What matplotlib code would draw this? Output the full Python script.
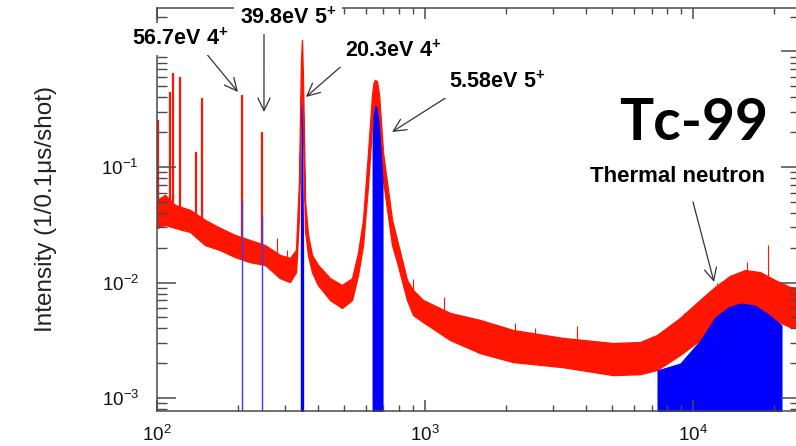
import matplotlib
matplotlib.use("Agg")
import matplotlib.pyplot as plt

plt.rcParams['font.family'] = ['Liberation Sans', 'DejaVu Sans']
plt.rcParams['mathtext.fontset'] = 'custom'
plt.rcParams['mathtext.rm'] = 'Liberation Sans'
plt.rcParams['mathtext.it'] = 'Liberation Sans:italic'
plt.rcParams['mathtext.bf'] = 'Liberation Sans:bold'

# ---- data ----
# time of flight (us) and noise band of the red (all events) spectrum
band_x = [100, 107.1, 116.7, 132.8, 151.1, 171.8, 195.4, 222.3, 252.9, 287.7, 313.5,
          330.1, 338.8, 344.6, 347.5, 350.5, 356.6, 365.9, 378.7, 398.7, 442.2, 490.1,
          534.2, 562.3, 587.1, 612.9, 634.4, 643.0, 651.1, 662.4, 673.9, 697.4, 753.4, 786.5,
          856.8, 902.2, 982.9, 1240, 1604, 2130, 3273, 5028, 6342, 7338, 8941, 10620,
          12080, 13740, 15630, 17780, 20230, 23010, 25070]
band_hi = [0.0518, 0.0573, 0.0469, 0.0425, 0.0348, 0.0297, 0.0258, 0.0233, 0.0211, 0.0173, 0.0163,
           0.0191, 0.0771, 0.844, 1.258, 0.567, 0.0518, 0.0258, 0.0173, 0.0142, 0.0109, 0.00951,
           0.0109, 0.0180, 0.0348, 0.132, 0.420, 0.540, 0.567, 0.550, 0.420, 0.132, 0.0348, 0.0233,
           0.0105, 0.00861, 0.00705, 0.00545, 0.00474, 0.00388, 0.00331, 0.00299, 0.00305, 0.00351,
           0.00493, 0.00705, 0.00914, 0.0114, 0.0128, 0.0123, 0.0105, 0.00914, 0.00896]
band_lo = [0.0297, 0.0315, 0.0297, 0.0274, 0.0211, 0.0191, 0.0166, 0.0150, 0.0142, 0.0109, 0.0101,
           0.0123, 0.0384, 0.380, 0.692, 0.255, 0.0285, 0.0173, 0.0123, 0.00951, 0.00705, 0.00602,
           0.00705, 0.0116, 0.0211, 0.0699, 0.231, 0.310, 0.344, 0.324, 0.231, 0.0771, 0.0211, 0.0150,
           0.00705, 0.00523, 0.00455, 0.00318, 0.00245, 0.00205, 0.00185, 0.00158, 0.00161, 0.00175,
           0.00236, 0.00318, 0.00429, 0.00545, 0.00639, 0.00578, 0.00474, 0.00412, 0.00404]

# narrow resonance peaks and noise spikes of the red spectrum
spike_x = [100.5, 111.8, 114.7, 121.8, 139.8, 147.2, 207.6, 246.4,
           280.3, 305.6, 902.2, 1178, 2167, 2573, 3692, 9255, 12290, 15900, 19050]
spike_top = [0.255, 0.446, 0.652, 0.601, 0.135, 0.396, 0.420, 0.201,
             0.0243, 0.0191, 0.0107, 0.00749, 0.00446, 0.00404, 0.0042, 0.00545, 0.0099, 0.015, 0.0211]
spike_base = [0.035, 0.035, 0.035, 0.035, 0.03, 0.03, 0.02, 0.018,
              0.015, 0.013, 0.007, 0.005, 0.003, 0.003, 0.0025, 0.004, 0.007, 0.01, 0.01]
spike_big = 8  # first 8 entries are the resonance lines

# blue (gated) spectrum
gate_line_x = [207.6, 246.4]
gate_line_top = [0.0518, 0.0384]
gate203_x = [342.5, 345.0, 347.5, 350.0, 352.5]
gate203_y = [0.02, 0.30, 0.40, 0.15, 0.02]
gate558_x = [634.4, 639.9, 651.1, 662.4, 673.9, 685.5, 697.4]
gate558_y = [0.17, 0.28, 0.344, 0.33, 0.24, 0.14, 0.075]
gate_th_x = [7338, 8941, 10620, 12080, 13510, 14980, 17030, 19390, 21480]
gate_th_y = [0.00175, 0.00201, 0.00318, 0.00503, 0.00614, 0.00665, 0.00639, 0.00523, 0.00429]

# annotations: text and arrow tip in data
ann_text = ["56.7eV 4$^{\\mathbf{+}}$", "39.8eV 5$^{\\mathbf{+}}$",
            "20.3eV 4$^{\\mathbf{+}}$", "5.58eV 5$^{\\mathbf{+}}$", "Thermal neutron"]
ann_tip = [(200.5, 0.446), (250.7, 0.2995), (359.7, 0.404), (753.4, 0.201), (11980, 0.0101)]

RED = '#ff1500'
BLUE = '#0000ff'
W, H = 796, 446

fig = plt.figure(figsize=(W / 100, H / 100), dpi=100)
ax = fig.add_axes([157 / W, 35 / H, 643 / W, 403 / H])
ax.set_xscale('log')
ax.set_yscale('log')
ax.set_xlim(100, 25070)
ax.set_ylim(7.72e-4, 2.38)
ax.set_axisbelow(False)

ax.fill_between(band_x, band_lo, band_hi, color=RED, lw=1.0, edgecolor=RED, zorder=2)
ax.vlines(spike_x[:spike_big], spike_base[:spike_big], spike_top[:spike_big],
          color=RED, lw=1.6, zorder=2)
ax.vlines(spike_x[spike_big:], spike_base[spike_big:], spike_top[spike_big:],
          color=RED, lw=0.8, zorder=2)

BOT = 1e-4
ax.vlines(gate_line_x, BOT, gate_line_top, color='#3a3aff', lw=1.0, zorder=2.2)
ax.fill_between(gate203_x, BOT, gate203_y, color=BLUE, lw=0, zorder=2.2)
ax.fill_between(gate558_x, BOT, gate558_y, color=BLUE, lw=0, zorder=2.2)
ax.fill_between(gate_th_x, BOT, gate_th_y, color=BLUE, lw=0, zorder=2.2)

# axes style (ROOT-like, ticks inside on all sides)
for s in ax.spines.values():
    s.set_color('#4a4a4a')
    s.set_linewidth(1.1)
ax.tick_params(which='both', direction='in', top=True, right=True, colors='#4a4a4a',
               labelcolor='#111111', labelsize=13.5)
ax.tick_params(axis='y', which='major', length=14, width=1.1, pad=13)
ax.tick_params(axis='y', which='minor', length=7, width=1.0)
ax.tick_params(axis='x', which='major', length=8, width=1.1, pad=10)
ax.tick_params(axis='x', which='minor', length=4.5, width=1.0)
ax.set_ylabel('Intensity (1/0.1\u03bcs/shot)', fontsize=17.5, color='#222222')
ax.yaxis.set_label_coords(-0.155, 0.5)

# hide the 10^0 label (covered in the original)
fig.canvas.draw()
for lab in ax.get_yticklabels():
    if lab.get_text().endswith('^{0}}$'):
        lab.set_visible(False)

text_px = [(180, 39), (288, 18), (393, 51), (497, 82), (677, 177)]
tail_px = [(205, 52), (264, 32), (345, 63), (447, 97), (693, 202)]
for t, (cx, cy), (tx, ty), tip in zip(ann_text, text_px, tail_px, ann_tip):
    fs = 16 if t == "Thermal neutron" else 15.5
    box = dict(boxstyle='square,pad=0.25', fc='white', ec='none') if t != "Thermal neutron" else None
    fig.text(cx / W, 1 - cy / H, t, ha='center', va='center', fontsize=fs,
             fontweight='bold', color='black', bbox=box, zorder=5)
    ax.annotate('', xy=tip, xycoords='data', xytext=(tx, H - ty), textcoords='figure pixels',
                arrowprops=dict(arrowstyle='->,head_length=0.45,head_width=0.22', color='#333333',
                                lw=0.9, mutation_scale=20, shrinkA=0, shrinkB=0), zorder=4)

fig.text(694 / W, 1 - 124 / H, 'Tc-99', ha='center', va='center', fontsize=41,
         fontweight='bold', family=['Lato', 'DejaVu Sans'], color='black')

fig.savefig('out.png', dpi=100)
